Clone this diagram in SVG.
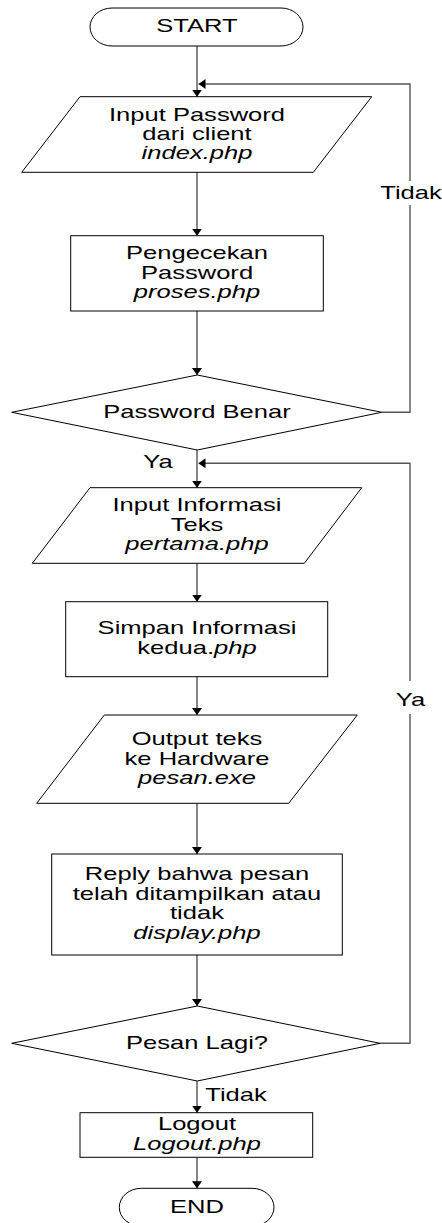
<svg xmlns="http://www.w3.org/2000/svg" width="442" height="1223" viewBox="0 0 442 1223">
<style>
.s{fill:#fff;stroke:#000;stroke-width:1}
.c{fill:none;stroke:#555;stroke-width:1.4}
.t{font-family:"Liberation Sans",Arial,sans-serif;font-size:18px;fill:#000;text-anchor:middle}
.i{font-style:italic}
.bg{fill:#fff}
</style>
<defs>
<marker id="ah" viewBox="0 0 7 10" refX="7" refY="5" markerWidth="7" markerHeight="10" markerUnits="userSpaceOnUse" orient="auto">
<path d="M0,0 L7,5 L0,10 z" fill="#000"/>
</marker>
</defs>
<rect width="442" height="1223" fill="#fff"/>
<g id="connectors">
<line class="c" x1="197" y1="46" x2="197" y2="96.7" marker-end="url(#ah)"/>
<line class="c" x1="197" y1="172.3" x2="197" y2="235.7" marker-end="url(#ah)"/>
<line class="c" x1="197" y1="311" x2="197" y2="375" marker-end="url(#ah)"/>
<line class="c" x1="197" y1="450" x2="197" y2="487.7" marker-end="url(#ah)"/>
<line class="c" x1="197" y1="563.3" x2="197" y2="601.7" marker-end="url(#ah)"/>
<line class="c" x1="197" y1="676.7" x2="197" y2="715" marker-end="url(#ah)"/>
<line class="c" x1="197" y1="803.3" x2="197" y2="854" marker-end="url(#ah)"/>
<line class="c" x1="197" y1="955" x2="197" y2="1006" marker-end="url(#ah)"/>
<line class="c" x1="197" y1="1081" x2="197" y2="1112.7" marker-end="url(#ah)"/>
<line class="c" x1="197" y1="1157.3" x2="197" y2="1188.3" marker-end="url(#ah)"/>
<polyline class="c" points="381.7,412.3 410,412.3 410,84 198.5,84" marker-end="url(#ah)"/>
<polyline class="c" points="380,1043.3 410,1043.3 410,463.3 198.5,463.3" marker-end="url(#ah)"/>
<g id="labels">
<rect class="bg" x="380" y="181" width="62" height="24"/>
<text class="t" transform="translate(411,0) scale(1.42,1)" x="0" y="199">Tidak</text>
<text class="t" transform="translate(158,0) scale(1.42,1)" x="0" y="467.7">Ya</text>
<rect class="bg" x="395" y="681" width="31" height="33"/>
<text class="t" transform="translate(410.5,0) scale(1.42,1)" x="0" y="706">Ya</text>
<text class="t" transform="translate(236,0) scale(1.42,1)" x="0" y="1100.7">Tidak</text>
</g>
</g>
<g id="start">
<rect class="s" x="90" y="8" width="213" height="38" rx="22" ry="19"/>
<text class="t" transform="translate(197,0) scale(1.42,1)" x="0" y="32.3">START</text>
</g>
<g id="input-password">
<polygon class="s" points="80,96.7 371.7,96.7 313.3,172.3 21.7,172.3"/>
<text class="t" transform="translate(197,0) scale(1.42,1)"><tspan x="0" y="120.7">Input Password</tspan><tspan x="0" y="140">dari client</tspan><tspan x="0" y="159.3" class="i">index.php</tspan></text>
</g>
<g id="cek-password">
<rect class="s" x="70.7" y="235.7" width="252.6" height="75.3"/>
<text class="t" transform="translate(197,0) scale(1.42,1)"><tspan x="0" y="259.3">Pengecekan</tspan><tspan x="0" y="278.7">Password</tspan><tspan x="0" y="297.7" class="i">proses.php</tspan></text>
</g>
<g id="password-benar">
<polygon class="s" points="197.3,375 381.7,412.3 197.3,450 11.7,412.3"/>
<text class="t" transform="translate(197,0) scale(1.42,1)" x="0" y="417.7">Password Benar</text>
</g>
<g id="input-informasi">
<polygon class="s" points="90,487.7 361.7,487.7 304.3,563.3 32.3,563.3"/>
<text class="t" transform="translate(197,0) scale(1.42,1)"><tspan x="0" y="511">Input Informasi</tspan><tspan x="0" y="531">Teks</tspan><tspan x="0" y="550" class="i">pertama.php</tspan></text>
</g>
<g id="simpan-informasi">
<rect class="s" x="65.7" y="601.7" width="262" height="75"/>
<text class="t" transform="translate(197,0) scale(1.42,1)"><tspan x="0" y="634">Simpan Informasi</tspan><tspan x="0" y="654">kedua.<tspan class="i">php</tspan></tspan></text>
</g>
<g id="output-teks">
<polygon class="s" points="104.3,715 357.3,715 288.7,803.3 36.7,803.3"/>
<text class="t" transform="translate(197,0) scale(1.42,1)"><tspan x="0" y="745">Output teks</tspan><tspan x="0" y="765">ke Hardware</tspan><tspan x="0" y="784.3" class="i">pesan.exe</tspan></text>
</g>
<g id="reply">
<rect class="s" x="51.7" y="854" width="290.6" height="101"/>
<text class="t" transform="translate(197,0) scale(1.42,1)"><tspan x="0" y="880">Reply bahwa pesan</tspan><tspan x="0" y="900">telah ditampilkan atau</tspan><tspan x="0" y="919.3">tidak</tspan><tspan x="0" y="939.3" class="i">display.php</tspan></text>
</g>
<g id="pesan-lagi">
<polygon class="s" points="197.3,1006 380,1043.3 197.3,1081 11.7,1043.3"/>
<text class="t" transform="translate(197,0) scale(1.42,1)" x="0" y="1049">Pesan Lagi?</text>
</g>
<g id="logout">
<rect class="s" x="80" y="1112.7" width="232.7" height="44.6"/>
<text class="t" transform="translate(197,0) scale(1.42,1)"><tspan x="0" y="1130">Logout</tspan><tspan x="0" y="1150" class="i">Logout.php</tspan></text>
</g>
<g id="end">
<rect class="s" x="119.3" y="1188.3" width="154.7" height="38" rx="22" ry="19"/>
<text class="t" transform="translate(197,0) scale(1.42,1)" x="0" y="1213.3">END</text>
</g>
</svg>
